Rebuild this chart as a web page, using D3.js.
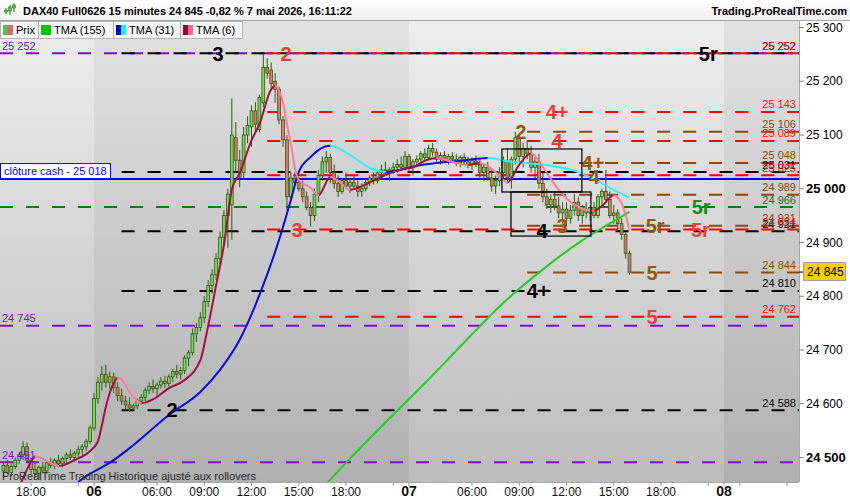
<!DOCTYPE html>
<html><head><meta charset="utf-8">
<script src="https://cdn.jsdelivr.net/npm/d3@7"></script>
<style>
body{margin:0;background:#fff;}
svg{display:block;font-family:Arial,"Liberation Sans",sans-serif;}
</style></head><body>
<svg id="c" width="850" height="500"></svg>
<script>
// ---------- DATA ----------
const firstBar = -7; // bar index 0 = 5 May 18:00, 15-minute bars
const opens = [24475,24485,24472,24483,24495,24505,24520,24495,24478,24470,
24482,24475,24490,24485,24495,24488,24498,24505,24500,24508,
24515,24520,24530,24555,24610,24640,24655,24640,24650,24630,
24615,24605,24598,24592,24596,24605,24612,24625,24632,24628,
24635,24642,24638,24650,24660,24655,24662,24685,24695,24730,
24742,24760,24790,24820,24840,24870,24910,24950,24970,25095,
25053,25030,25100,25115,25145,25110,25160,25226,25221,25200,
25185,25128,25091,24985,25020,25012,25000,24985,24965,24950,
24990,25025,25050,25058,25030,25010,24995,25015,25005,25012,
25005,24995,25000,25012,25020,25015,25030,25035,25028,25035,
25040,25045,25040,25060,25040,25050,25055,25065,25058,25075,
25068,25055,25062,25052,25060,25055,25048,25058,25050,25045,
25052,25045,25030,25040,25020,25005,25015,25030,25050,25020,
25055,25095,25060,25075,25065,25040,25050,25010,24985,24970,
24980,24968,24955,24962,24945,24960,24975,24950,24962,24955,
24965,24950,24985,24995,24980,24950,24955,24935,24915,24880];
const highs = [24490,24495,24488,24500,24510,24530,24528,24500,24490,24485,
24492,24495,24500,24498,24505,24502,24510,24515,24512,24522,
24525,24535,24560,24620,24650,24670,24672,24660,24658,24640,
24628,24615,24612,24600,24610,24618,24630,24640,24645,24640,
24650,24652,24655,24665,24672,24668,24690,24700,24740,24750,
24770,24800,24830,24850,24880,24920,24960,25000,25168,25124,
25072,25115,25135,25155,25161,25175,25252,25243,25235,25215,
25190,25135,25100,25030,25030,25022,25015,24995,24975,25000,
25035,25060,25070,25065,25045,25025,25020,25030,25020,25025,
25015,25010,25018,25025,25030,25035,25045,25050,25040,25048,
25055,25060,25070,25065,25055,25062,25070,25075,25082,25085,
25075,25068,25070,25065,25068,25065,25062,25066,25060,25058,
25062,25055,25045,25050,25035,25025,25040,25060,25075,25060,
25106,25100,25085,25090,25080,25060,25065,25030,25000,24990,
24995,24985,24975,24975,24970,24990,24985,24970,24975,24970,
24975,24990,25000,25035,24995,24970,24962,24945,24920,24885];
const lows = [24462,24470,24465,24478,24488,24495,24490,24470,24462,24460,
24470,24470,24480,24478,24485,24482,24490,24495,24492,24500,
24505,24512,24525,24550,24600,24625,24630,24628,24620,24605,
24598,24590,24585,24588,24590,24598,24605,24618,24620,24615,
24628,24630,24632,24640,24648,24645,24655,24670,24690,24715,
24735,24750,24780,24805,24830,24860,24895,24890,24905,25030,
25003,25020,25085,25078,25103,25105,25152,25205,25185,25160,
25120,25078,24960,24975,25005,24995,24975,24960,24930,24940,
24975,25015,25030,25010,25000,24985,24990,25000,24992,25000,
24985,24985,24995,25005,25008,25010,25020,25025,25015,25028,
25030,25035,25035,25030,25025,25040,25045,25050,25055,25060,
25050,25045,25048,25045,25050,25042,25040,25045,25038,25035,
25040,25020,25015,25015,24995,24990,25005,25020,25010,25000,
25045,25050,25040,25055,25030,25020,25000,24975,24962,24955,
24960,24945,24935,24930,24935,24950,24940,24935,24945,24940,
24945,24945,24970,24975,24945,24935,24925,24905,24870,24840];
const closes = [24485,24472,24483,24495,24505,24520,24495,24478,24470,24482,
24475,24490,24485,24495,24488,24498,24505,24500,24508,24515,
24520,24530,24555,24610,24640,24655,24640,24650,24630,24615,
24605,24598,24592,24596,24605,24612,24625,24632,24628,24635,
24642,24638,24650,24660,24655,24662,24685,24695,24730,24742,
24760,24790,24820,24840,24870,24910,24950,24990,25100,25053,
25022,25100,25118,25145,25120,25170,25226,25215,25196,25185,
25128,25091,24985,25020,25012,25000,24985,24965,24950,24990,
25025,25050,25058,25030,25010,24995,25015,25005,25012,25005,
24995,25000,25012,25020,25015,25030,25035,25028,25035,25040,
25045,25040,25060,25040,25050,25055,25065,25058,25075,25068,
25055,25062,25052,25060,25055,25048,25058,25050,25045,25052,
25045,25030,25040,25020,25005,25015,25030,25050,25020,25055,
25095,25060,25075,25065,25040,25050,25010,24985,24970,24980,
24968,24955,24962,24945,24960,24975,24950,24962,24955,24965,
24950,24985,24995,24980,24950,24955,24935,24915,24880,24845];

// moving averages (bar index, value)
const tma155Bars = [75,80,90,100,110,120,130,140,146,152];
const tma155Vals = [24451,24490,24565,24638,24714,24788,24850,24904,24931,24957];
const tma31Bars = [10,12,21,26,35,43,48,53,58,63,66,68,71,73,76,81,86,90,99,109,116,122,131,139,148,152];
const tma31Vals = [24440,24454,24495,24523,24579,24622,24663,24719,24802,24905,24979,25031,25059,25072,25080,25063,25039,25031,25044,25052,25057,25050,25044,25031,24998,24983];
const tma6Bars = [-3,-2,0,1,2,5,7,11,15,17,18,19,20,21,22,23,25,28,31,35,39,43,45,47,49,51,53,56,58,61,62,63,64,65,66,67,68,71,73,76,78,81,85,89,94,97,100,103,107,111,114,118,121,124,127,130,134,139,143,145,148,150,152];
const tma6Vals = [24445,24462,24492,24502,24501,24490,24484,24495,24512,24530,24560,24594,24620,24638,24648,24645,24622,24601,24608,24629,24644,24681,24745,24820,24895,24998,25029,25090,25120,25185,25191,25182,25160,25120,25085,25040,25016,25002,24988,25022,25015,24998,25008,25022,25036,25040,25052,25057,25050,25044,25048,25031,25012,25045,25066,25040,24998,24966,24959,24968,24988,24973,24923];

// horizontal levels
const levelValues = [25252,25252,25252,25143,25106,25089,25048,25031,25025,24989,24966,24931,24924,24921,24844,24810,24762,24745,24588,24491];
const levelSets   = ["P","K","R","R","B","R","B","K","R","B","G","B","R","K","B","K","R","P","K","P"];
const setStartBar = {P:-8, G:-8, K:23, R:60, B:126};
const closeCash = 25018;
const lastPrice = 24845;

// level annotations
const annoText  = ["3","2","5r","4+","2","4","4+","4","5r","5r","5r","3","3","4","5","4+","5","2"];
const annoBar   = [47.5,64.8,172,133.6,124.4,133.6,142.7,143,170.2,158.5,170,67.6,134.9,129.8,157.7,128.8,157.7,35.8];
const annoPrice = [25252,25252,25252,25143,25106,25089,25048,25022,24966,24931,24924,24924,24931,24921,24844,24810,24762,24588];
const annoSet   = ["K","R","K","R","B","R","B","B","G","B","R","R","B","K","B","K","R","K"];

// zone boxes
const boxStartBar = [119.6,121.9];
const boxEndBar   = [139.9,142.2];
const boxHigh     = [25074,24994];
const boxLow      = [24994,24912];

// axes
const priceTicks = [24500,24600,24700,24800,24900,25000,25100,25200,25300];
const timeTickBars   = [0,16,32,44,56,68,80,96,112,124,136,148,160,176];
const timeTickLabels = ["18:00","06","06:00","09:00","12:00","15:00","18:00","07","06:00","09:00","12:00","15:00","18:00","08"];
const minorTickBars  = [12,92,172,180,192];
const dayStartBars   = [-40,16,96,176,260];

// ---------- STYLE ----------
const setColor = {P:"#7a10c8", G:"#008000", K:"#000000", R:"#ff0000", B:"#8b4a0a"};
const annoColor = {P:"#7a10c8", G:"#138a13", K:"#000000", R:"#f03c3c", B:"#96560f"};
const P = {l:0, r:799, t:21, b:482};

const svg = d3.select("#c");
const defs = svg.append("defs");
function vgrad(id,c0,c1){
  const g = defs.append("linearGradient").attr("id",id).attr("x1",0).attr("y1",0).attr("x2",0).attr("y2",1);
  g.append("stop").attr("offset","0%").attr("stop-color",c0);
  g.append("stop").attr("offset","100%").attr("stop-color",c1);
}
vgrad("gLight","#eeeeee","#bcbcbc");
vgrad("gDark","#e2e2e2","#b0b0b0");
vgrad("gHead","#ffffff","#efefef");
defs.append("clipPath").attr("id","plotClip").append("rect")
  .attr("x",P.l).attr("y",P.t).attr("width",P.r-P.l).attr("height",P.b-P.t);

const x = d3.scaleLinear().domain([0,160]).range([31, 31+160*3.9375]);
const y = d3.scaleLinear().domain([24500,25300]).range([457.5, 27.5]);

svg.append("rect").attr("x",0).attr("y",0).attr("width",850).attr("height",21).attr("fill","url(#gHead)");

const plot = svg.append("g").attr("clip-path","url(#plotClip)");
for(let i=0;i<dayStartBars.length-1;i++){
  const x0 = Math.max(P.l, x(dayStartBars[i])), x1 = Math.min(P.r, x(dayStartBars[i+1]));
  if(x1<=x0) continue;
  plot.append("rect").attr("x",x0).attr("y",P.t).attr("width",x1-x0).attr("height",P.b-P.t)
    .attr("fill", i%2===0 ? "url(#gLight)" : "url(#gDark)");
}

const order = ["P","G","K","B","R"];
order.forEach(s=>{
  levelValues.forEach((v,i)=>{
    if(levelSets[i]!==s) return;
    plot.append("line").attr("x1",Math.max(P.l,x(setStartBar[s]))).attr("x2",P.r)
      .attr("y1",y(v)).attr("y2",y(v))
      .attr("stroke",setColor[s]).attr("stroke-width",2).attr("stroke-dasharray","13,13");
  });
});
plot.append("line").attr("x1",P.l).attr("x2",P.r).attr("y1",y(closeCash)).attr("y2",y(closeCash))
  .attr("stroke","#0000ff").attr("stroke-width",2);

const bars = closes.map((c,i)=>({k:firstBar+i,o:opens[i],h:highs[i],l:lows[i],c:c}));
const cg = plot.append("g");
bars.forEach(b=>{
  const cx = x(b.k);
  cg.append("line").attr("x1",cx).attr("x2",cx).attr("y1",y(b.h)).attr("y2",y(b.l))
    .attr("stroke","#2e5b14").attr("stroke-width",1);
  const top = y(Math.max(b.o,b.c)), bot = y(Math.min(b.o,b.c));
  cg.append("rect").attr("x",cx-1.4).attr("width",2.8).attr("y",top).attr("height",Math.max(1,bot-top))
    .attr("fill", b.c>=b.o ? "#72dc50" : "#e5776a").attr("stroke","#2e5b14").attr("stroke-width",0.8);
});

function drawMA(ks,vs,upC,dnC,id){
  const pts = ks.map((k,i)=>[x(k),y(vs[i])]);
  const line = d3.line().curve(d3.curveMonotoneX);
  const cu = defs.append("clipPath").attr("id",id+"u");
  const cd = defs.append("clipPath").attr("id",id+"d");
  for(let i=0;i<ks.length-1;i++){
    const cp = vs[i+1]>=vs[i] ? cu : cd;
    cp.append("rect").attr("x",x(ks[i])-0.3).attr("y",0).attr("width",x(ks[i+1])-x(ks[i])+0.6).attr("height",500);
  }
  plot.append("path").attr("d",line(pts)).attr("fill","none").attr("stroke",upC).attr("stroke-width",2).attr("clip-path",`url(#${id}u)`);
  plot.append("path").attr("d",line(pts)).attr("fill","none").attr("stroke",dnC).attr("stroke-width",2).attr("clip-path",`url(#${id}d)`);
}
drawMA(tma155Bars,tma155Vals,"#1ed21e","#1ed21e","m155");
drawMA(tma31Bars,tma31Vals,"#0a0ae0","#30f0ff","m31");
drawMA(tma6Bars,tma6Vals,"#a3103f","#ff7a9c","m6");

boxStartBar.forEach((b,i)=>{
  plot.append("rect").attr("x",x(b)).attr("y",y(boxHigh[i]))
    .attr("width",x(boxEndBar[i])-x(b)).attr("height",y(boxLow[i])-y(boxHigh[i]))
    .attr("fill","none").attr("stroke","#000").attr("stroke-width",1.2);
});

annoText.forEach((t,i)=>{
  plot.append("text").attr("x",x(annoBar[i])).attr("y",y(annoPrice[i])).attr("dy","0.36em")
    .attr("text-anchor","middle").attr("font-size",20).attr("font-weight","bold")
    .attr("fill",annoColor[annoSet[i]]).text(t);
});

const fmt = v => d3.format(",")(v).replace(",", " ");
["K","G","B","R"].forEach(s=>{
  levelValues.forEach((v,i)=>{
    if(levelSets[i]!==s) return;
    plot.append("text").attr("x",796).attr("y",y(v)-3.5).attr("text-anchor","end")
      .attr("font-size",11).attr("fill",s==="R"?"#ff1010":setColor[s]).text(fmt(v));
  });
});
levelValues.forEach((v,i)=>{
  if(levelSets[i]!=="P") return;
  plot.append("text").attr("x",2).attr("y",y(v)-3.5).attr("font-size",11).attr("fill",setColor.P).text(fmt(v));
});
const cc = plot.append("g");
cc.append("rect").attr("x",0.5).attr("y",y(closeCash)-15.5).attr("width",110).attr("height",15)
  .attr("fill","#fff").attr("stroke","#0000ff").attr("stroke-width",1);
cc.append("text").attr("x",4).attr("y",y(closeCash)-4).attr("font-size",11).attr("fill","#0000ff")
  .text("clôture cash -  " + fmt(closeCash));

plot.append("text").attr("x",2).attr("y",480).attr("font-size",11).attr("fill","#2a2a2a")
  .text("ProRealTime Trading  Historique ajusté aux rollovers");

svg.append("rect").attr("x",P.r).attr("y",P.t).attr("width",850-P.r).attr("height",P.b-P.t).attr("fill","#fff");
svg.append("rect").attr("x",0).attr("y",P.b).attr("width",850).attr("height",500-P.b).attr("fill","#fff");
svg.append("line").attr("x1",P.r+0.5).attr("x2",P.r+0.5).attr("y1",P.t).attr("y2",P.b).attr("stroke","#a8a8a8");
svg.append("line").attr("x1",0).attr("x2",P.r).attr("y1",P.b+0.5).attr("y2",P.b+0.5).attr("stroke","#a8a8a8");
svg.append("line").attr("x1",0).attr("x2",850).attr("y1",P.t-0.5).attr("y2",P.t-0.5).attr("stroke","#a8a8a8");

const yAxis = svg.append("g");
priceTicks.forEach(v=>{
  yAxis.append("line").attr("x1",P.r).attr("x2",P.r+5).attr("y1",y(v)).attr("y2",y(v)).attr("stroke","#888");
  yAxis.append("text").attr("x",P.r+7).attr("y",y(v)).attr("dy","0.35em").attr("font-size",v%500===0?13:12)
    .attr("font-weight",v%500===0?"bold":"normal").attr("fill","#000").text(fmt(v));
});
yAxis.append("line").attr("x1",P.r).attr("x2",P.r+5).attr("y1",y(lastPrice)).attr("y2",y(lastPrice)).attr("stroke","#000");
yAxis.append("rect").attr("x",P.r+4.5).attr("y",y(lastPrice)-9.5).attr("width",42).attr("height",18)
  .attr("fill","#ffcc00").attr("stroke","#a0a0a0");
yAxis.append("text").attr("x",P.r+8).attr("y",y(lastPrice)).attr("dy","0.36em").attr("font-size",12).attr("fill","#000").text(fmt(lastPrice));

const xAxis = svg.append("g");
timeTickBars.forEach((k,i)=>{
  const day = /^\d\d$/.test(timeTickLabels[i]);
  xAxis.append("line").attr("x1",x(k)).attr("x2",x(k)).attr("y1",P.b).attr("y2",P.b+4).attr("stroke","#999");
  xAxis.append("text").attr("x",x(k)).attr("y",496).attr("text-anchor","middle")
    .attr("font-size",day?14:12).attr("font-weight",day?"bold":"normal").attr("fill","#111").text(timeTickLabels[i]);
});
minorTickBars.forEach(k=>{
  xAxis.append("line").attr("x1",x(k)).attr("x2",x(k)).attr("y1",P.b).attr("y2",P.b+4).attr("stroke","#999");
});

const hd = svg.append("g");
[[6,8,14,10,12],[10,5,15,7,11],[14,3,12,5,8]].forEach(c=>{
  hd.append("line").attr("x1",c[0]).attr("x2",c[0]).attr("y1",c[1]).attr("y2",c[2]).attr("stroke","#2e7d2e");
  hd.append("rect").attr("x",c[0]-1.5).attr("y",c[3]).attr("width",3).attr("height",c[4]-c[3]).attr("fill","#5cc83c").attr("stroke","#2e7d2e").attr("stroke-width",0.6);
});
hd.append("text").attr("x",23).attr("y",15).attr("font-size",11).attr("font-weight","bold").attr("fill","#000")
  .text("DAX40 Full0626 15 minutes 24 845 -0,82 % 7 mai 2026, 16:11:22");
hd.append("text").attr("x",847).attr("y",15).attr("text-anchor","end").attr("font-size",11).attr("font-weight","bold").attr("fill","#000")
  .text("Trading.ProRealTime.com");

const legendNames = ["Prix","TMA (155)","TMA (31)","TMA (6)"];
const legendC1 = ["#5cb85c","#00c800","#0000cc","#990033"];
const legendC2 = ["#e06666","#00c800","#00ffff","#ff6688"];
const legendX = [0,38,113,180,242];
legendNames.forEach((n,i)=>{
  const x0 = legendX[i], w = legendX[i+1]-legendX[i];
  hd.append("rect").attr("x",x0+0.5).attr("y",21.5).attr("width",w).attr("height",17).attr("fill","#f6f6f6").attr("stroke","#b4b4b4");
  hd.append("rect").attr("x",x0+3).attr("y",25).attr("width",5).attr("height",10).attr("fill",legendC1[i]);
  hd.append("rect").attr("x",x0+8).attr("y",25).attr("width",5).attr("height",10).attr("fill",legendC2[i]);
  hd.append("text").attr("x",x0+16).attr("y",34).attr("font-size",11).attr("fill","#000").text(n);
});
</script></body></html>
